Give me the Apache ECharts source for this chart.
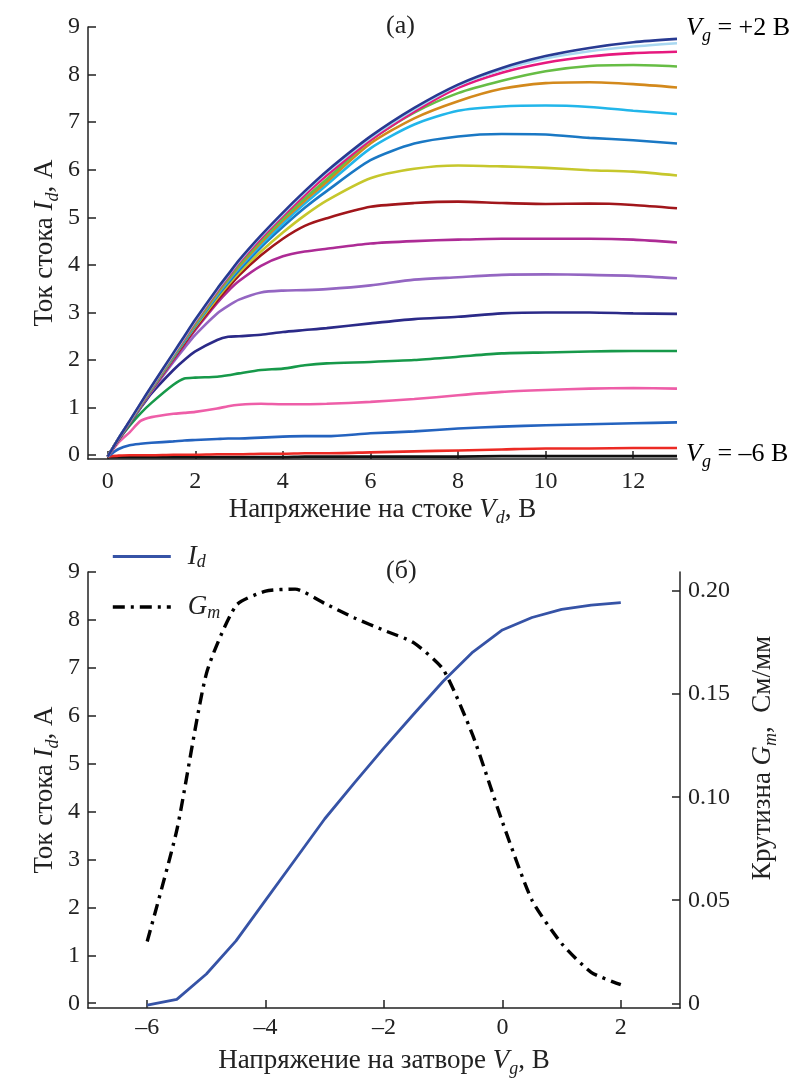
<!DOCTYPE html>
<html>
<head>
<meta charset="utf-8">
<script src="https://cdn.jsdelivr.net/npm/echarts@6/dist/echarts.min.js"></script>
<style>
html, body { margin: 0; padding: 0; background: #fff; }
#chart { width: 794px; height: 1079px; }
</style>
</head>
<body>
<div id="chart"></div>
<script>
// (а) drain current Id vs drain voltage Vd, one curve per gate voltage
const vd = [0, 0.25, 0.5, 0.75, 1, 1.5, 1.75, 2, 2.5, 2.75, 3, 3.5, 4, 4.5, 5, 6, 7, 8, 9, 10, 11, 12, 13]
const vgSteps = [-6, -5.5, -5, -4.5, -4, -3.5, -3, -2.5, -2, -1.5, -1, -0.5, 0, 0.5, 1, 1.5, 2]
const idVgM60 = [-0.04, -0.04, -0.04, -0.04, -0.04, -0.04, -0.04, -0.04, -0.04, -0.04, -0.04, -0.04, -0.04, -0.03, -0.03, -0.03, -0.03, -0.03, -0.02, -0.02, -0.02, -0.02, -0.02]
const idVgM55 = [-0.03, -0.01, 0, 0, 0, 0.01, 0.01, 0.01, 0.02, 0.02, 0.02, 0.03, 0.03, 0.04, 0.04, 0.06, 0.08, 0.1, 0.12, 0.14, 0.14, 0.15, 0.15]
const idVgM50 = [-0.03, 0.13, 0.21, 0.24, 0.26, 0.29, 0.31, 0.32, 0.34, 0.35, 0.35, 0.37, 0.39, 0.4, 0.4, 0.46, 0.5, 0.56, 0.6, 0.63, 0.65, 0.67, 0.69]
const idVgM45 = [-0.03, 0.27, 0.48, 0.72, 0.8, 0.87, 0.89, 0.91, 0.98, 1.03, 1.06, 1.08, 1.07, 1.07, 1.08, 1.12, 1.18, 1.26, 1.33, 1.37, 1.4, 1.41, 1.4]
const idVgM40 = [-0.03, 0.32, 0.62, 0.88, 1.1, 1.48, 1.61, 1.63, 1.65, 1.68, 1.72, 1.79, 1.82, 1.89, 1.93, 1.96, 2.0, 2.07, 2.14, 2.16, 2.18, 2.19, 2.19]
const idVgM35 = [-0.03, 0.33, 0.66, 0.99, 1.3, 1.79, 2.0, 2.18, 2.42, 2.49, 2.5, 2.53, 2.59, 2.63, 2.67, 2.77, 2.86, 2.91, 2.98, 3.0, 3.0, 2.98, 2.97]
const idVgM30 = [-0.03, 0.34, 0.67, 1.01, 1.34, 1.96, 2.25, 2.53, 2.98, 3.14, 3.27, 3.42, 3.46, 3.47, 3.49, 3.57, 3.69, 3.74, 3.79, 3.8, 3.79, 3.77, 3.72]
const idVgM25 = [-0.03, 0.34, 0.68, 1.02, 1.36, 2.0, 2.32, 2.63, 3.2, 3.45, 3.66, 3.98, 4.18, 4.28, 4.34, 4.45, 4.5, 4.53, 4.55, 4.55, 4.55, 4.53, 4.47]
const idVgM20 = [-0.03, 0.34, 0.68, 1.03, 1.37, 2.03, 2.35, 2.67, 3.25, 3.52, 3.78, 4.2, 4.55, 4.82, 4.98, 5.22, 5.3, 5.33, 5.3, 5.28, 5.29, 5.26, 5.19]
const idVgM15 = [-0.03, 0.35, 0.69, 1.04, 1.38, 2.05, 2.38, 2.7, 3.3, 3.58, 3.84, 4.28, 4.68, 5.04, 5.35, 5.82, 6.02, 6.09, 6.07, 6.04, 5.99, 5.96, 5.88]
const idVgM10 = [-0.03, 0.35, 0.69, 1.04, 1.39, 2.06, 2.39, 2.72, 3.34, 3.62, 3.89, 4.37, 4.8, 5.2, 5.55, 6.2, 6.55, 6.7, 6.75, 6.74, 6.67, 6.62, 6.55]
const idVgM05 = [-0.03, 0.35, 0.7, 1.05, 1.4, 2.08, 2.41, 2.74, 3.37, 3.66, 3.93, 4.42, 4.87, 5.29, 5.68, 6.45, 6.95, 7.24, 7.33, 7.35, 7.32, 7.24, 7.17]
const idVg00 = [-0.03, 0.35, 0.7, 1.05, 1.41, 2.09, 2.43, 2.76, 3.4, 3.69, 3.97, 4.47, 4.93, 5.35, 5.74, 6.55, 7.08, 7.44, 7.7, 7.82, 7.84, 7.8, 7.73]
const idVgP05 = [-0.03, 0.35, 0.7, 1.06, 1.42, 2.1, 2.44, 2.78, 3.42, 3.71, 4.0, 4.51, 4.97, 5.4, 5.8, 6.62, 7.2, 7.61, 7.87, 8.07, 8.18, 8.2, 8.17]
const idVgP10 = [-0.03, 0.35, 0.71, 1.07, 1.43, 2.12, 2.46, 2.81, 3.45, 3.75, 4.05, 4.56, 5.03, 5.47, 5.88, 6.62, 7.22, 7.72, 8.04, 8.25, 8.38, 8.45, 8.48]
const idVgP15 = [-0.03, 0.36, 0.71, 1.08, 1.44, 2.13, 2.48, 2.83, 3.48, 3.78, 4.08, 4.6, 5.07, 5.52, 5.94, 6.67, 7.27, 7.77, 8.1, 8.34, 8.49, 8.59, 8.66]
const idVgP20 = [-0.03, 0.36, 0.72, 1.09, 1.45, 2.15, 2.5, 2.85, 3.5, 3.8, 4.1, 4.62, 5.1, 5.55, 5.97, 6.7, 7.3, 7.79, 8.14, 8.39, 8.56, 8.68, 8.75]
const outputCurves = [idVgM60, idVgM55, idVgM50, idVgM45, idVgM40, idVgM35, idVgM30, idVgM25, idVgM20,
  idVgM15, idVgM10, idVgM05, idVg00, idVgP05, idVgP10, idVgP15, idVgP20]
const curveColors = ['#111111', '#ec2a24', '#2463bf', '#ee5ea8', '#17994a', '#2b2a88', '#9466c2', '#ad2b95', '#a1161b',
  '#c6c72c', '#1a78c4', '#22b6ea', '#d3891c', '#67bd45', '#e6197e', '#a9d8f1', '#283a92']

// (б) transfer curve Id(Vg) and transconductance Gm(Vg)
const vgGate = [-6, -5.5, -5, -4.5, -4, -3.5, -3, -2.5, -2, -1.5, -1, -0.5, 0, 0.5, 1, 1.5, 2]
const idGate = [-0.04, 0.08, 0.61, 1.3, 2.15, 3.0, 3.85, 4.6, 5.33, 6.03, 6.72, 7.33, 7.79, 8.05, 8.22, 8.31, 8.36]
const gmGate = [0.03, 0.084, 0.16, 0.193, 0.2, 0.201, 0.194, 0.187, 0.181, 0.175, 0.162, 0.13, 0.088, 0.05, 0.029, 0.015, 0.009]

const topXTicks = [0, 2, 4, 6, 8, 10, 12]
const idTicks = [0, 1, 2, 3, 4, 5, 6, 7, 8, 9]
const botXTicks = [-6, -4, -2, 0, 2]
const gmTicks = [0, 0.05, 0.1, 0.15, 0.2]

const FONT = 'Liberation Serif'
const INK = '#222'
const rich = {
  n: { fontFamily: FONT, fontSize: 27, color: INK, lineHeight: 34 },
  i: { fontFamily: FONT, fontSize: 27, fontStyle: 'italic', color: INK, lineHeight: 34 },
  s: { fontFamily: FONT, fontSize: 18, fontStyle: 'italic', color: INK, lineHeight: 18, verticalAlign: 'bottom' }
}
const richTag = {
  n: Object.assign({}, rich.n, { fontSize: 26 }),
  i: Object.assign({}, rich.i, { fontSize: 26 }),
  s: rich.s
}

function axisBase (ticks, margin) {
  return {
    type: 'value',
    splitLine: { show: false },
    axisLine: { show: true, onZero: false, lineStyle: { color: INK, width: 1.5 } },
    axisTick: { show: true, inside: true, length: 8, customValues: ticks, lineStyle: { color: INK, width: 1.5 } },
    axisLabel: {
      customValues: ticks, fontFamily: FONT, fontSize: 24, color: INK, margin: margin,
      formatter: v => String(v).replace('-', '–')
    },
    nameTextStyle: { rich: rich },
    nameLocation: 'middle'
  }
}

const chart = echarts.init(document.getElementById('chart'), null, { renderer: 'canvas' })

const series = outputCurves.map((arr, k) => ({
  name: 'Vg' + vgSteps[k],
  type: 'line',
  xAxisIndex: 0,
  yAxisIndex: 0,
  data: vd.map((x, j) => [x, arr[j]]),
  symbol: 'none',
  smooth: 0.25,
  lineStyle: { color: curveColors[k], width: 2.6 },
  itemStyle: { color: curveColors[k] },
  silent: true
}))

series.push({
  name: 'Id',
  type: 'line',
  xAxisIndex: 1,
  yAxisIndex: 1,
  data: vgGate.map((x, j) => [x, idGate[j]]),
  symbol: 'none',
  lineStyle: { color: '#3653a6', width: 2.8 },
  itemStyle: { color: '#3653a6' }
})
series.push({
  name: 'Gm',
  type: 'line',
  xAxisIndex: 1,
  yAxisIndex: 2,
  data: vgGate.map((x, j) => [x, gmGate[j]]),
  symbol: 'none',
  smooth: 0.2,
  lineStyle: { color: '#000', width: 3.4, type: [12, 6, 3, 6] },
  itemStyle: { color: '#000' }
})

const topX = Object.assign(axisBase(topXTicks, 11), {
  gridIndex: 0, min: -0.45, max: 13,
  name: '{n|Напряжение на стоке }{i|V}{s|d}{n|, В}', nameGap: 34
})
const topY = Object.assign(axisBase(idTicks, 8), {
  gridIndex: 0, min: -0.08, max: 9,
  name: '{n|Ток стока }{i|I}{s|d}{n|, А}', nameGap: 26, nameRotate: 90, nameMoveOverlap: false
})
const botX = Object.assign(axisBase(botXTicks, 8), {
  gridIndex: 1, min: -7, max: 3,
  name: '{n|Напряжение на затворе }{i|V}{s|g}{n|, В}', nameGap: 36
})
const botY = Object.assign(axisBase(idTicks, 8), {
  gridIndex: 1, min: -0.1, max: 9,
  name: '{n|Ток стока }{i|I}{s|d}{n|, А}', nameGap: 26, nameRotate: 90, nameMoveOverlap: false
})
const gmY = Object.assign(axisBase(gmTicks, 8), {
  gridIndex: 1, min: -0.0023, max: 0.2093, position: 'right',
  name: '{n|Крутизна }{i|G}{s|m}{n|,  См/мм}', nameGap: 66, nameRotate: 90
})
gmY.axisLabel.formatter = v => (v === 0 ? '0' : v.toFixed(2))
gmY.nameTextStyle = { rich: rich, padding: [0, 0, 0, 64] }

const hiddenMark = { color: 'rgba(0,0,0,0)', borderColor: 'rgba(0,0,0,0)', borderWidth: 0, opacity: 0 }

chart.setOption({
  animation: false,
  backgroundColor: '#fff',
  grid: [
    { left: 88, top: 27, right: 117, height: 432 },
    { left: 88, top: 572, right: 114, height: 436 }
  ],
  xAxis: [topX, botX],
  yAxis: [topY, botY, gmY],
  legend: {
    data: [
      { name: 'Id', itemStyle: hiddenMark, lineStyle: { width: 3 } },
      { name: 'Gm', itemStyle: hiddenMark, lineStyle: { width: 3.6 } }
    ],
    orient: 'vertical',
    left: 106,
    top: 538,
    itemWidth: 58,
    itemHeight: 14,
    itemGap: 22,
    formatter: name => (name === 'Id' ? '{i|I}{s|d}' : '{i|G}{s|m}'),
    textStyle: {
      padding: [0, 0, 0, 12],
      rich: {
        i: { fontFamily: FONT, fontSize: 27, fontStyle: 'italic', color: INK, lineHeight: 30 },
        s: { fontFamily: FONT, fontSize: 18, fontStyle: 'italic', color: INK, lineHeight: 18, verticalAlign: 'bottom' }
      }
    }
  },
  graphic: [
    { type: 'text', left: 386, top: 13, style: { text: '(а)', font: '26px "Liberation Serif"', fill: INK } },
    { type: 'text', left: 386, top: 558, style: { text: '(б)', font: '26px "Liberation Serif"', fill: INK } },
    {
      type: 'text', left: 686, top: 15,
      style: { text: '{i|V}{s|g}{n| = +2 В}', rich: richTag }
    },
    {
      type: 'text', left: 686, top: 441,
      style: { text: '{i|V}{s|g}{n| = –6 В}', rich: richTag }
    }
  ],
  series: series
})
</script>
</body>
</html>
